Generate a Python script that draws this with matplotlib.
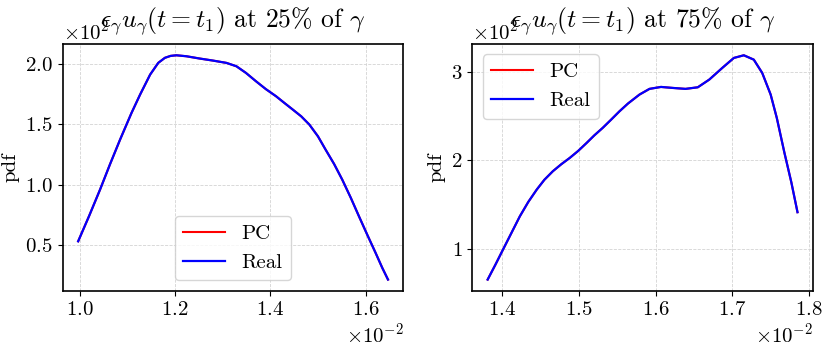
import numpy as np
import matplotlib
matplotlib.use("Agg")
import matplotlib.pyplot as plt
from matplotlib.ticker import MultipleLocator

plt.rcParams['font.family'] = 'serif'
plt.rcParams['font.serif'] = ['cmr10']
plt.rcParams['mathtext.fontset'] = 'cm'
plt.rcParams['axes.formatter.use_mathtext'] = True
plt.rcParams['axes.unicode_minus'] = False

# data (x in units of 1e-2, pdf in units of 1e2)
x25 = [0.997, 1.020, 1.043, 1.064, 1.085, 1.109, 1.127, 1.148, 1.165, 1.179, 1.191,
       1.203, 1.224, 1.252, 1.280, 1.308, 1.329, 1.349, 1.370, 1.391, 1.412, 1.430,
       1.447, 1.465, 1.482, 1.500, 1.516, 1.534, 1.551, 1.569, 1.586, 1.604, 1.621,
       1.635, 1.647]
pdf25 = [0.530, 0.740, 0.959, 1.170, 1.373, 1.594, 1.746, 1.911, 2.008, 2.050, 2.066,
         2.071, 2.063, 2.044, 2.027, 2.008, 1.980, 1.925, 1.856, 1.790, 1.732, 1.675,
         1.622, 1.565, 1.497, 1.400, 1.290, 1.170, 1.041, 0.890, 0.738, 0.580, 0.434,
         0.310, 0.213]

x75 = [1.381, 1.391, 1.401, 1.412, 1.423, 1.434, 1.445, 1.455, 1.466, 1.477, 1.488,
       1.499, 1.510, 1.520, 1.531, 1.542, 1.553, 1.564, 1.579, 1.592, 1.607, 1.622,
       1.639, 1.655, 1.670, 1.687, 1.702, 1.715, 1.728, 1.739, 1.750, 1.758, 1.768,
       1.777, 1.785]
pdf75 = [0.654, 0.820, 0.992, 1.180, 1.368, 1.530, 1.669, 1.780, 1.876, 1.955, 2.026,
         2.105, 2.195, 2.280, 2.365, 2.458, 2.553, 2.640, 2.741, 2.805, 2.827, 2.816,
         2.805, 2.823, 2.910, 3.042, 3.154, 3.184, 3.135, 2.985, 2.741, 2.478, 2.083,
         1.750, 1.414]

panels = [(x25, pdf25, '25', 'lower center', 0.002, 50),
          (x75, pdf75, '75', 'upper left', 0.001, 100)]

fig, axes = plt.subplots(1, 2, figsize=(8.3, 3.47), dpi=100)
fig.subplots_adjust(left=0.0755, right=0.9795, bottom=0.162, top=0.873, wspace=0.2015)

for ax, (x, p, pct, loc, xstep, ystep) in zip(axes, panels):
    xs = np.array(x) * 1e-2
    ps = np.array(p) * 1e2
    ax.plot(xs, ps, color='r', lw=1.5, label='PC')
    ax.plot(xs, ps, color='b', lw=1.6, label='Real')
    ax.xaxis.set_major_locator(MultipleLocator(xstep))
    ax.yaxis.set_major_locator(MultipleLocator(ystep))
    ax.ticklabel_format(style='sci', scilimits=(0, 0), useMathText=True)
    ax.tick_params(labelsize=15)
    ax.xaxis.get_offset_text().set_fontsize(15)
    ax.yaxis.get_offset_text().set_fontsize(15)
    ax.grid(color='lightgray', linestyle='--', linewidth=0.6)
    for s in ax.spines.values():
        s.set_linewidth(1.2)
    ax.set_ylabel('pdf', fontsize=15)
    ax.set_title(r'$\epsilon_\gamma u_\gamma(t=t_1)$ at ' + pct + r'% of $\gamma$',
                 fontsize=18.5, y=1.069, pad=0)
    ax.legend(loc=loc, fontsize=15)

plt.savefig('out.png')
